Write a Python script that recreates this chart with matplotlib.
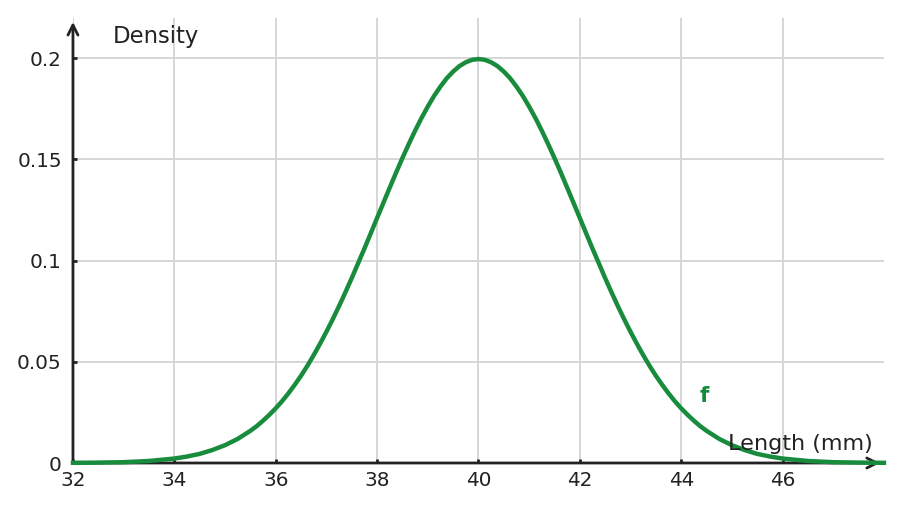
import matplotlib
matplotlib.use("Agg")
import matplotlib.pyplot as plt

plt.rcParams["font.family"] = ["DejaVu Sans"]

# density curve (finer steps where it bends)
length = ([32, 32.5, 33, 33.5, 34, 34.25, 34.5, 34.75, 35, 35.25, 35.5]
          + [35.625 + 0.125 * i for i in range(71)]
          + [44.5, 44.75, 45, 45.25, 45.5, 45.75, 46, 46.5, 47, 47.5, 48])
density = [0.0001, 0.0002, 0.0004, 0.0010, 0.0022, 0.0032, 0.0045, 0.0064,
           0.0088, 0.0119, 0.0159,
           0.0182, 0.0209, 0.0238, 0.0270, 0.0305, 0.0344, 0.0386, 0.0431,
           0.0480, 0.0533, 0.0589, 0.0648, 0.0710, 0.0775, 0.0843, 0.0913,
           0.0986, 0.1059, 0.1134, 0.1210, 0.1285, 0.1360, 0.1434, 0.1506,
           0.1575, 0.1641, 0.1703, 0.1760, 0.1813, 0.1859, 0.1900, 0.1933,
           0.1960, 0.1979, 0.1991,
           0.1995,
           0.1991, 0.1979, 0.1960, 0.1933, 0.1900, 0.1859, 0.1813, 0.1760,
           0.1703, 0.1641, 0.1575, 0.1506, 0.1434, 0.1360, 0.1285, 0.1210,
           0.1134, 0.1059, 0.0986, 0.0913, 0.0843, 0.0775, 0.0710, 0.0648,
           0.0589, 0.0533, 0.0480, 0.0431, 0.0386, 0.0344, 0.0305, 0.0270,
           0.0238, 0.0209, 0.0182,
           0.0159, 0.0119, 0.0088, 0.0064, 0.0045, 0.0032, 0.0022, 0.0010,
           0.0004, 0.0002, 0.0001]

xticks = [32, 34, 36, 38, 40, 42, 44, 46]
yticks = [0, 0.05, 0.1, 0.15, 0.2]
ytick_labels = ["0", "0.05", "0.1", "0.15", "0.2"]

green = "#188c3c"
dark = "#222222"

fig = plt.figure(figsize=(9.03, 5.12), dpi=100)
ax = fig.add_axes([0.0808, 0.0957, 0.8981, 0.8701])
ax.set_xlim(32, 48)
ax.set_ylim(0, 0.22)

for s in ax.spines.values():
    s.set_visible(False)

ax.grid(True, color="#d6d6d6", linewidth=1.4, zorder=0)
ax.set_axisbelow(True)

ax.plot(length, density, color=green, linewidth=3.2, zorder=3,
        clip_on=False, solid_joinstyle="round")

# axes with arrows
ax.annotate("", xy=(47.92, 0), xytext=(32, 0),
            arrowprops=dict(arrowstyle="->", color=dark, lw=2,
                            mutation_scale=18, shrinkA=0, shrinkB=0),
            annotation_clip=False, zorder=2)
ax.annotate("", xy=(32, 0.2178), xytext=(32, 0),
            arrowprops=dict(arrowstyle="->", color=dark, lw=2,
                            mutation_scale=18, shrinkA=0, shrinkB=0),
            annotation_clip=False, zorder=2)

ax.set_xticks(xticks)
ax.set_xticklabels([str(t) for t in xticks])
ax.set_yticks(yticks)
ax.set_yticklabels(ytick_labels)
ax.tick_params(direction="in", length=3, width=2, color=dark,
               labelsize=14.4, labelcolor=dark)
ax.tick_params(axis="x", pad=6)
ax.tick_params(axis="y", pad=8)

ax.text(32.79, 0.2074, "Density", fontsize=16.4, color=dark, va="baseline")
ax.text(44.92, 0.0064, "Length (mm)", fontsize=16.1, color=dark,
        va="baseline", zorder=5)
ax.text(44.37, 0.0301, "f", fontsize=15.5, color=green, fontweight="bold",
        va="baseline")

fig.savefig("out.png", dpi=100)
